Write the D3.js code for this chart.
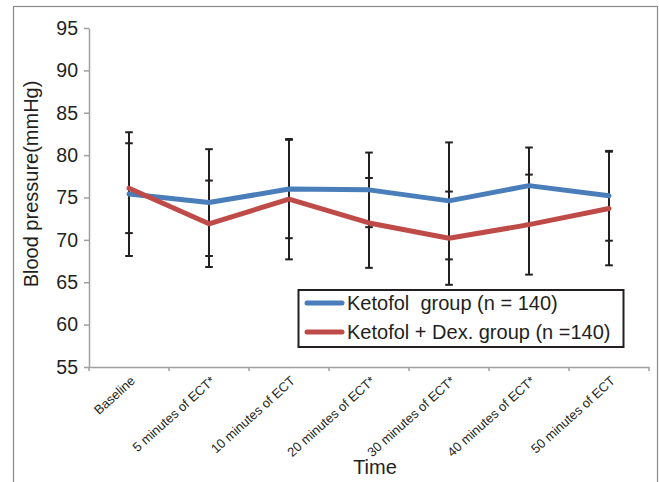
<!DOCTYPE html>
<html><head><meta charset="utf-8">
<script src="https://cdn.jsdelivr.net/npm/d3@7"></script>
<style>body{margin:0;background:#fff}svg{display:block}</style>
</head><body>
<script>
const categories = ["Baseline","5 minutes of ECT*","10 minutes of ECT","20 minutes of ECT*","30 minutes of ECT*","40 minutes of ECT*","50 minutes of ECT"];
const ketofolMean = [75.4, 74.4, 76.0, 75.9, 74.6, 76.4, 75.2];
const ketofolSD   = [7.3, 6.3, 5.8, 4.4, 6.9, 4.5, 5.3];
const dexMean     = [76.1, 71.9, 74.8, 72.0, 70.2, 71.8, 73.7];
const dexSD       = [5.3, 5.1, 7.1, 5.3, 5.5, 5.9, 6.7];
const yTicks = [55, 60, 65, 70, 75, 80, 85, 90, 95];
const seriesNames = ["Ketofol  group (n = 140)", "Ketofol + Dex. group (n =140)"];
const seriesColors = ["#4A7EBB", "#BE4B48"];

const W = 659, H = 482;
const ink = "#231f20", axisGrey = "#a0a0a0";
const font = "'Liberation Sans', Arial, sans-serif";

const svg = d3.select("body").append("svg").attr("width", W).attr("height", H);

// outer frame
svg.append("rect").attr("x", 13.5).attr("y", 6.5).attr("width", 644).attr("height", 500)
  .attr("fill", "none").attr("stroke", "#8a8a8a").attr("stroke-width", 1.2);

const x = d3.scaleBand().domain(categories).range([89, 649]);
const y = d3.scaleLinear().domain([55, 95]).range([367, 28]);

// y axis
const ya = svg.append("g").attr("transform", "translate(89,0)")
  .call(d3.axisLeft(y).tickValues(yTicks).tickSize(5).tickSizeOuter(0).tickPadding(6));
ya.select(".domain").attr("stroke", axisGrey).attr("stroke-width", 1.5);
ya.selectAll(".tick line").attr("stroke", axisGrey).attr("stroke-width", 1.5);
ya.selectAll(".tick text").attr("font-family", font).attr("font-size", 19.5).attr("fill", ink);

// x axis
const xa = svg.append("g").attr("transform", "translate(0,367)")
  .call(d3.axisBottom(x).tickSize(0).tickSizeOuter(0).tickFormat(""));
xa.select(".domain").attr("stroke", axisGrey).attr("stroke-width", 1.5);
const bounds = categories.map(c => x(c)).concat([x.range()[1]]);
svg.append("g").selectAll("line").data(bounds).join("line")
  .attr("x1", d => d).attr("x2", d => d).attr("y1", 367).attr("y2", 371)
  .attr("stroke", axisGrey).attr("stroke-width", 1.5);
const cx = c => x(c) + x.bandwidth() / 2;
svg.append("g").selectAll("text").data(categories).join("text")
  .attr("transform", d => `translate(${cx(d) + 7},${382}) rotate(-42)`)
  .attr("text-anchor", "end")
  .attr("font-family", font).attr("font-size", 13).attr("fill", ink)
  .text(d => d);

// axis titles
svg.append("text").attr("transform", "translate(38,184) rotate(-90)")
  .attr("text-anchor", "middle").attr("font-family", font).attr("font-size", 20).attr("fill", ink)
  .text("Blood pressure(mmHg)");
svg.append("text").attr("x", 375).attr("y", 474)
  .attr("text-anchor", "middle").attr("font-family", font).attr("font-size", 20).attr("fill", ink)
  .text("Time");

// error bars
const series = [
  {mean: ketofolMean, sd: ketofolSD, color: seriesColors[0]},
  {mean: dexMean, sd: dexSD, color: seriesColors[1]}
];
const eb = svg.append("g");
series.forEach(s => {
  categories.forEach((c, i) => {
    const lo = s.mean[i] - s.sd[i], hi = s.mean[i] + s.sd[i];
    const g = eb.append("g").attr("stroke", ink).attr("stroke-width", 2);
    g.append("line").attr("x1", cx(c)).attr("x2", cx(c)).attr("y1", y(lo)).attr("y2", y(hi));
    [lo, hi].forEach(v => g.append("line").attr("x1", cx(c) - 3.8).attr("x2", cx(c) + 3.8)
      .attr("y1", y(v)).attr("y2", y(v)));
  });
});

// lines
const line = d3.line().x((d, i) => cx(categories[i])).y(d => y(d));
series.forEach(s => {
  svg.append("path").datum(s.mean).attr("d", line)
    .attr("fill", "none").attr("stroke", s.color).attr("stroke-width", 5)
    .attr("stroke-linecap", "round").attr("stroke-linejoin", "round");
});

// legend
const lg = svg.append("g");
lg.append("rect").attr("x", 298.5).attr("y", 290).attr("width", 325).attr("height", 57)
  .attr("fill", "#fff").attr("stroke", ink).attr("stroke-width", 2);
seriesNames.forEach((n, i) => {
  const yy = 303 + i * 29;
  lg.append("line").attr("x1", 307).attr("x2", 342).attr("y1", yy).attr("y2", yy)
    .attr("stroke", seriesColors[i]).attr("stroke-width", 5).attr("stroke-linecap", "round");
  lg.append("text").attr("x", 347).attr("y", yy + 7).attr("font-family", font).attr("font-size", 20)
    .attr("fill", ink).attr("xml:space", "preserve").style("white-space", "pre").text(n);
});
</script>
</body></html>
